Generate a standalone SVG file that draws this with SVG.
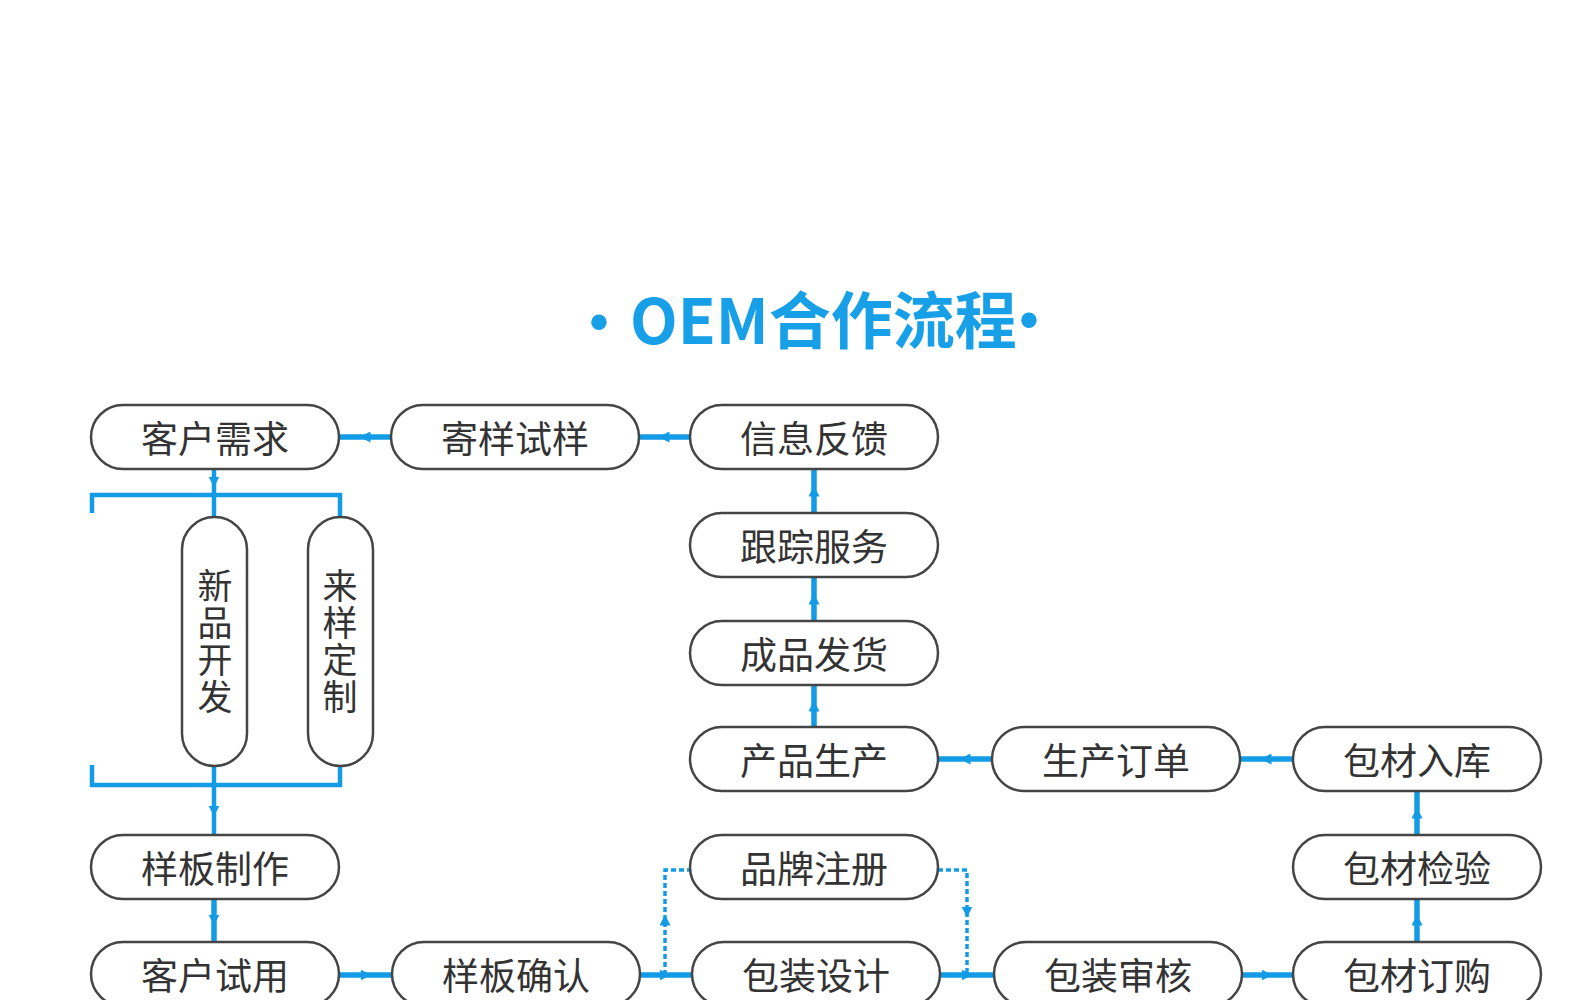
<svg xmlns="http://www.w3.org/2000/svg" width="1580" height="1000" viewBox="0 0 1580 1000">
<style>
.pill{fill:#fff;stroke:#454545;stroke-width:2.5}
.lbl{font-family:"Noto Sans CJK SC","Noto Sans",sans-serif;font-size:37px;fill:#333;text-anchor:middle;dominant-baseline:central}
.vl{font-family:"Noto Sans CJK SC","Noto Sans",sans-serif;font-size:35px;fill:#333;text-anchor:middle;writing-mode:vertical-rl;letter-spacing:2px}
.ln{fill:none;stroke:#139be6;stroke-width:5.5}
.br{fill:none;stroke:#139be6;stroke-width:4.5}
.dot{fill:none;stroke:#139be6;stroke-width:3.5;stroke-dasharray:5 3}
.title{font-family:"Noto Sans CJK SC","Noto Sans",sans-serif;font-size:62px;font-weight:700;fill:#17a0e8}
.bul{font-family:"Liberation Sans",Arial,sans-serif;font-size:54px}
</style>
<defs>
<marker id="ar" viewBox="0 0 10 10" refX="5" refY="5" markerWidth="11" markerHeight="11" markerUnits="userSpaceOnUse" orient="auto">
<path d="M0,0 L10,5 L0,10 z" fill="#139be6"/>
</marker>
</defs>
<rect width="1580" height="1000" fill="#fff"/>
<g id="title">
<text class="title" y="344"><tspan class="bul" x="599" y="340" text-anchor="middle">•</tspan><tspan x="630" y="344">OEM合作流程</tspan><tspan class="bul" x="1029" y="338" text-anchor="middle">•</tspan></text>
</g>
<g id="connectors">
<path class="ln" d="M391 437 L365 437 L339 437" marker-mid="url(#ar)"/>
<path class="ln" d="M690 437 L664 437 L639 437" marker-mid="url(#ar)"/>
<path class="ln" d="M814 513 L814 491 L814 470" marker-mid="url(#ar)"/>
<path class="ln" d="M814 621 L814 599 L814 577" marker-mid="url(#ar)"/>
<path class="ln" d="M814 727 L814 706 L814 685" marker-mid="url(#ar)"/>
<path class="ln" d="M992 759 L965 759 L938 759" marker-mid="url(#ar)"/>
<path class="ln" d="M1293 759 L1266 759 L1239 759" marker-mid="url(#ar)"/>
<path class="ln" d="M1417 835 L1417 813 L1417 791" marker-mid="url(#ar)"/>
<path class="ln" d="M1417 942 L1417 920 L1417 899" marker-mid="url(#ar)"/>
<path class="ln" d="M214 899 L214 920 L214 942" marker-mid="url(#ar)"/>
<path class="ln" d="M339 975 L366 975 L392 975" marker-mid="url(#ar)"/>
<path class="ln" d="M640 975 L665 975 L692 975" marker-mid="url(#ar)"/>
<path class="ln" d="M940 975 L967 975 L994 975" marker-mid="url(#ar)"/>
<path class="ln" d="M1242 975 L1267 975 L1293 975" marker-mid="url(#ar)"/>
<path class="br" d="M214 470 L214 482 L214 517" marker-mid="url(#ar)"/>
<path class="br" d="M92 513 L92 495 L340 495 L340 517"/>
<path class="br" d="M214 767 L214 811 L214 835" marker-mid="url(#ar)"/>
<path class="br" d="M92 765 L92 785 L340 785 L340 767"/>
<path class="dot" d="M665 975 L665 920" marker-end="url(#ar)"/>
<path class="dot" d="M665 920 L665 870 L690 870"/>
<path class="dot" d="M938 870 L967 870 L967 915"/>
<path class="dot" d="M967 912 L967 975" marker-start="url(#ar)"/>
</g>
<g id="n-khxq"><rect class="pill" x="91" y="405" width="248" height="64" rx="32"/><text class="lbl" x="215" y="437">客户需求</text></g>
<g id="n-jysy"><rect class="pill" x="391" y="405" width="248" height="64" rx="32"/><text class="lbl" x="515" y="437">寄样试样</text></g>
<g id="n-xxfk"><rect class="pill" x="690" y="405" width="248" height="64" rx="32"/><text class="lbl" x="814" y="437">信息反馈</text></g>
<g id="n-gzfw"><rect class="pill" x="690" y="513" width="248" height="64" rx="32"/><text class="lbl" x="814" y="545">跟踪服务</text></g>
<g id="n-cpfh"><rect class="pill" x="690" y="621" width="248" height="64" rx="32"/><text class="lbl" x="814" y="653">成品发货</text></g>
<g id="n-cpsc"><rect class="pill" x="690" y="727" width="248" height="64" rx="32"/><text class="lbl" x="814" y="759">产品生产</text></g>
<g id="n-scdd"><rect class="pill" x="992" y="727" width="248" height="64" rx="32"/><text class="lbl" x="1116" y="759">生产订单</text></g>
<g id="n-bcrk"><rect class="pill" x="1293" y="727" width="248" height="64" rx="32"/><text class="lbl" x="1417" y="759">包材入库</text></g>
<g id="n-bcjy"><rect class="pill" x="1293" y="835" width="248" height="64" rx="32"/><text class="lbl" x="1417" y="867">包材检验</text></g>
<g id="n-bcdg"><rect class="pill" x="1293" y="942" width="248" height="64" rx="32"/><text class="lbl" x="1417" y="974">包材订购</text></g>
<g id="n-bzsh"><rect class="pill" x="994" y="942" width="248" height="64" rx="32"/><text class="lbl" x="1118" y="974">包装审核</text></g>
<g id="n-bzsj"><rect class="pill" x="692" y="942" width="248" height="64" rx="32"/><text class="lbl" x="816" y="974">包装设计</text></g>
<g id="n-ppzc"><rect class="pill" x="690" y="835" width="248" height="64" rx="32"/><text class="lbl" x="814" y="867">品牌注册</text></g>
<g id="n-ybqr"><rect class="pill" x="392" y="942" width="248" height="64" rx="32"/><text class="lbl" x="516" y="974">样板确认</text></g>
<g id="n-khsy"><rect class="pill" x="91" y="942" width="248" height="64" rx="32"/><text class="lbl" x="215" y="974">客户试用</text></g>
<g id="n-ybzz"><rect class="pill" x="91" y="835" width="248" height="64" rx="32"/><text class="lbl" x="215" y="867">样板制作</text></g>
<g id="n-xpkf"><rect class="pill" x="182" y="517" width="65" height="249" rx="32.5"/><text class="vl" x="215" y="642">新品开发</text></g>
<g id="n-lydz"><rect class="pill" x="308" y="517" width="65" height="249" rx="32.5"/><text class="vl" x="340" y="642">来样定制</text></g>
</svg>
